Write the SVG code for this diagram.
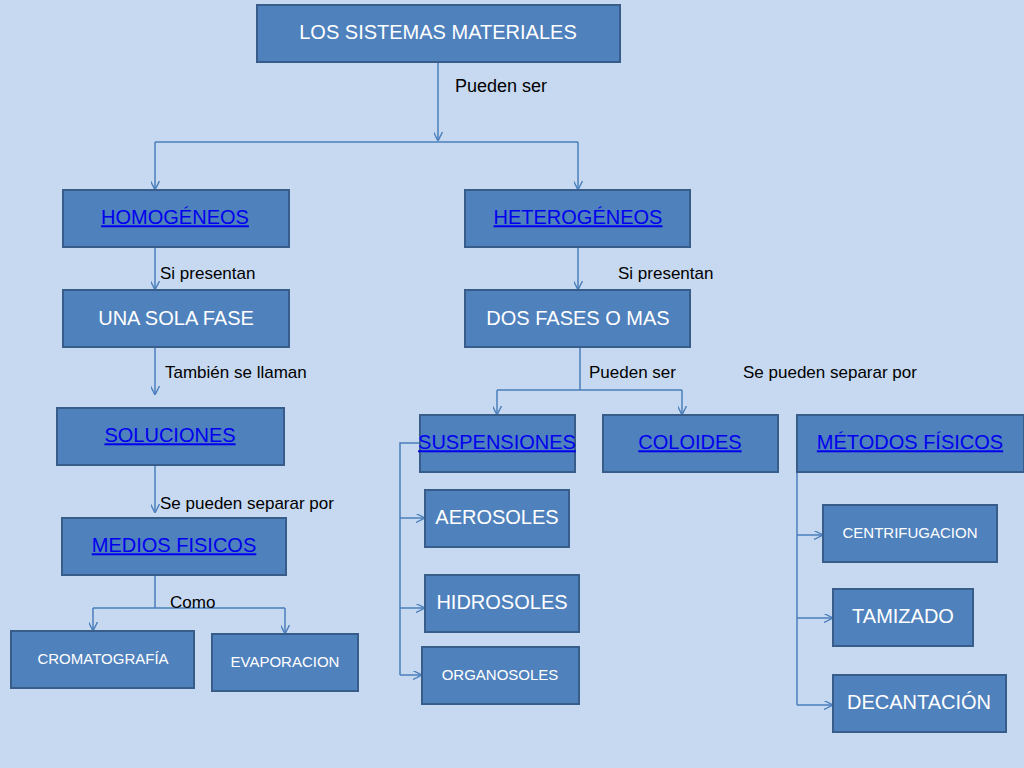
<svg xmlns="http://www.w3.org/2000/svg" width="1024" height="768" viewBox="0 0 1024 768">
<style>
.b{fill:#4f81bd;stroke:#385d8a;stroke-width:2}
.t{font-family:"Liberation Sans",Arial,sans-serif;font-size:20px;fill:#fff;text-anchor:middle;dominant-baseline:middle}
.s{font-size:15px}
.l{fill:#0000ee;text-decoration:underline}
.c{fill:none;stroke:#4a7ebb;stroke-width:1.5}
.a{marker-end:url(#ar)}
.lb{font-family:"Liberation Sans",Arial,sans-serif;font-size:18px;fill:#000}
</style>
<defs><marker id="ar" viewBox="0 0 10 10" refX="9" refY="5" markerWidth="9" markerHeight="9" orient="auto" markerUnits="userSpaceOnUse"><path d="M0,0 L10,5 L0,10" fill="none" stroke="#4a7ebb" stroke-width="1.5"/></marker></defs>
<rect width="1024" height="768" fill="#c6d9f0"/>
<g id="connectors">
<path class="c a" d="M438,62 V140"/>
<path class="c" d="M155,142 H578"/>
<path class="c a" d="M155,142 V189"/>
<path class="c a" d="M578,142 V189"/>
<path class="c a" d="M155,247 V289"/>
<path class="c a" d="M578,247 V289"/>
<path class="c a" d="M155,347 V394"/>
<path class="c a" d="M155,465 V512"/>
<path class="c" d="M155,575 V608 M93,608 H285"/>
<path class="c a" d="M93,608 V630"/>
<path class="c a" d="M285,608 V633"/>
<path class="c" d="M580,347 V390 M497,390 H682"/>
<path class="c a" d="M497,390 V414"/>
<path class="c a" d="M682,390 V414"/>
<path class="c" d="M420,443 H400 V675"/>
<path class="c a" d="M400,518 H424"/>
<path class="c a" d="M400,608 H424"/>
<path class="c a" d="M400,675 H421"/>
<path class="c" d="M797,472 V705"/>
<path class="c a" d="M797,535 H822"/>
<path class="c a" d="M797,618 H832"/>
<path class="c a" d="M797,705 H832"/>
</g>
<g class="lb">
<text x="455" y="92">Pueden ser</text>
<text x="160" y="279" font-size="17">Si presentan</text>
<text x="618" y="279" font-size="17">Si presentan</text>
<text x="165" y="378" font-size="17">También se llaman</text>
<text x="160" y="509" font-size="17">Se pueden separar por</text>
<text x="170" y="608" font-size="17">Como</text>
<text x="589" y="378" font-size="17">Pueden ser</text>
<text x="743" y="378" font-size="17">Se pueden separar por</text>
</g>
<g id="n1"><rect class="b" x="257" y="5" width="363" height="57"/><text class="t" x="438" y="34">LOS SISTEMAS MATERIALES</text></g>
<g id="n2"><rect class="b" x="63" y="190" width="226" height="57"/><text class="t l" x="175" y="219">HOMOGÉNEOS</text></g>
<g id="n3"><rect class="b" x="465" y="190" width="225" height="57"/><text class="t l" x="578" y="219">HETEROGÉNEOS</text></g>
<g id="n4"><rect class="b" x="63" y="290" width="226" height="57"/><text class="t" x="176" y="320">UNA SOLA FASE</text></g>
<g id="n5"><rect class="b" x="465" y="290" width="225" height="57"/><text class="t" x="578" y="320">DOS FASES O MAS</text></g>
<g id="n6"><rect class="b" x="57" y="408" width="227" height="57"/><text class="t l" x="170" y="437">SOLUCIONES</text></g>
<g id="n7"><rect class="b" x="62" y="518" width="224" height="57"/><text class="t l" x="174" y="547">MEDIOS FISICOS</text></g>
<g id="n8"><rect class="b" x="11" y="631" width="183" height="57"/><text class="t s" x="103" y="660">CROMATOGRAFÍA</text></g>
<g id="n9"><rect class="b" x="212" y="634" width="146" height="57"/><text class="t s" x="285" y="663">EVAPORACION</text></g>
<g id="n10"><rect class="b" x="420" y="415" width="155" height="57"/><text class="t l" x="497" y="444" font-size="14">SUSPENSIONES</text></g>
<g id="n11"><rect class="b" x="603" y="415" width="175" height="57"/><text class="t l" x="690" y="444">COLOIDES</text></g>
<g id="n12"><rect class="b" x="797" y="415" width="227" height="57"/><text class="t l" x="910" y="444">MÉTODOS FÍSICOS</text></g>
<g id="n13"><rect class="b" x="425" y="490" width="144" height="57"/><text class="t" x="497" y="519">AEROSOLES</text></g>
<g id="n14"><rect class="b" x="425" y="575" width="154" height="57"/><text class="t" x="502" y="604">HIDROSOLES</text></g>
<g id="n15"><rect class="b" x="422" y="647" width="157" height="57"/><text class="t s" x="500" y="676">ORGANOSOLES</text></g>
<g id="n16"><rect class="b" x="823" y="505" width="174" height="57"/><text class="t s" x="910" y="534">CENTRIFUGACION</text></g>
<g id="n17"><rect class="b" x="833" y="589" width="140" height="57"/><text class="t" x="903" y="618">TAMIZADO</text></g>
<g id="n18"><rect class="b" x="833" y="675" width="173" height="57"/><text class="t" x="919" y="704">DECANTACIÓN</text></g>
</svg>
